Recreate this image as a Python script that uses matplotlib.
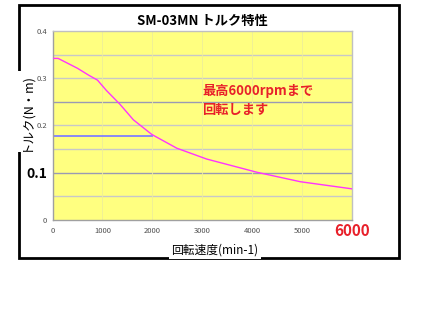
import numpy as np
import matplotlib.pyplot as plt
from matplotlib.patches import Rectangle

plt.rcParams['font.family'] = ['Noto Sans CJK JP', 'DejaVu Sans']

# torque curve
speed = [0, 110, 500, 715, 900, 1080, 1350, 1620, 1990, 2490, 3090, 4100, 4970, 6000]
torque = [0.342, 0.342, 0.321, 0.307, 0.296, 0.274, 0.245, 0.212, 0.181, 0.152, 0.129, 0.101, 0.081, 0.066]
# rated torque line
rated_x = [0, 1990]
rated_y = [0.178, 0.178]

x_ticks = [0, 1000, 2000, 3000, 4000, 5000, 6000]
y_ticks = [0, 0.1, 0.2, 0.3, 0.4]

fig = plt.figure(figsize=(4.35, 3.14), dpi=100)
fig.patch.set_facecolor('white')

# outer frame
fig.patches.append(Rectangle((0.0437, 0.178), 0.8736, 0.806, transform=fig.transFigure,
                             fill=False, edgecolor='black', linewidth=2, zorder=-2))

ax = fig.add_axes([0.121, 0.2994, 0.6874, 0.6019])
ax.set_facecolor('#FFFF80')

# horizontal grid, 0.1 and 0.25 darker
for g in np.arange(0.05, 0.4, 0.05):
    c = '#9A9AB4' if round(g, 2) in (0.1, 0.25) else '#C8C8C8'
    ax.axhline(g, color=c, linewidth=1, zorder=1)
for v in x_ticks[1:-1]:
    ax.axvline(v, color='#EEEE9A', linewidth=0.6, zorder=1)

ax.plot(rated_x, rated_y, color='#8080FF', linewidth=1.3, zorder=2)
ax.plot(speed, torque, color='#FF33FF', linewidth=1, zorder=3)

ax.set_xlim(0, 6000)
ax.set_ylim(0, 0.4)
ax.set_xticks(x_ticks)
ax.set_yticks(y_ticks)
ax.set_xticklabels([str(v) for v in x_ticks], va='center')
ax.set_yticklabels(['0', '0.1', '0.2', '0.3', '0.4'])
ax.tick_params(length=0, labelsize=5.5, labelcolor='#505050')
ax.tick_params(axis='x', pad=8)
ax.tick_params(axis='y', pad=4)

xl = ax.get_xticklabels()
xl[-1].set_color('#E8202A')
xl[-1].set_fontsize(11)
xl[-1].set_fontweight('bold')
yl = ax.get_yticklabels()
yl[1].set_color('black')
yl[1].set_fontsize(10)
yl[1].set_fontweight('bold')

for s in ax.spines.values():
    s.set_color('#C0C0C0')
    s.set_linewidth(1)
ax.spines['left'].set_color('#A0A0A0')
ax.spines['bottom'].set_color('#A0A0A0')

ax.set_title('SM-03MN トルク特性', fontsize=9.5, fontweight='bold', pad=4)

ax.text(3000, 0.272, '最高6000rpmまで', color='#E8202A', fontsize=9.5, fontweight='bold', va='center')
ax.text(3000, 0.232, '回転します', color='#E8202A', fontsize=9.5, fontweight='bold', va='center')

fig.text(0.060, 0.645, 'トルク(N・m)', rotation=90, fontsize=9, ha='center', va='center',
         zorder=-1, bbox=dict(facecolor='white', edgecolor='none', pad=1))
fig.text(0.494, 0.204, '回転速度(min-1)', fontsize=8.5, ha='center', va='center',
         zorder=-1, bbox=dict(facecolor='white', edgecolor='none', pad=1.5))

fig.savefig('out.png', dpi=100)
